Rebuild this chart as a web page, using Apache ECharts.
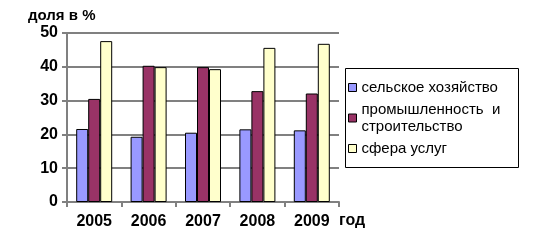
<!DOCTYPE html>
<html>
<head>
<meta charset="utf-8">
<script src="https://cdn.jsdelivr.net/npm/echarts@6/dist/echarts.min.js"></script>
<style>
  html, body { margin: 0; padding: 0; background: #fff; }
  #chart { width: 552px; height: 243px; }
</style>
</head>
<body>
<div id="chart"></div>
<script>
// годы и доли по секторам (%)
var years = ["2005", "2006", "2007", "2008", "2009"];
var agriculture = [21.6, 19.3, 20.5, 21.5, 21.2];
var industry = [30.5, 40.3, 39.9, 32.8, 32.1];
var services = [47.6, 39.9, 39.3, 45.6, 46.8];
var seriesNames = ["сельское хозяйство", "промышленность  и\nстроительство", "сфера услуг"];
var colors = ["#9999ff", "#993366", "#ffffcc"];

var chart = echarts.init(document.getElementById("chart"));
var font = "Liberation Sans, Arial, sans-serif";

function bar(name, data, color) {
  return {
    name: name,
    type: "bar",
    data: data,
    barWidth: 12,
    barGap: "0%",
    animation: false,
    itemStyle: { color: color, borderColor: "#000", borderWidth: 1 }
  };
}

var option = {
  backgroundColor: "#fff",
  grid: { left: 67, right: 213, top: 33, bottom: 41 },
  xAxis: {
    type: "category",
    data: years,
    axisLine: { lineStyle: { color: "#808080", width: 2 } },
    axisTick: { show: true, length: 5, lineStyle: { color: "#808080", width: 2 } },
    axisLabel: { color: "#000", fontFamily: font, fontSize: 16, fontWeight: "bold", margin: 12 }
  },
  yAxis: {
    type: "value",
    min: 0,
    max: 50,
    interval: 10,
    axisLine: { show: true, lineStyle: { color: "#808080", width: 2 } },
    axisTick: { show: true, length: 5, lineStyle: { color: "#808080", width: 2 } },
    splitLine: { lineStyle: { color: "#808080", width: 2 } },
    axisLabel: { color: "#000", fontFamily: font, fontSize: 16, fontWeight: "bold", margin: 9 }
  },
  legend: {
    orient: "vertical",
    left: 343,
    top: 74,
    itemWidth: 8,
    itemHeight: 8,
    itemGap: 5,
    icon: "rect",
    data: seriesNames,
    textStyle: { color: "#000", fontFamily: font, fontSize: 15, lineHeight: 17 },
    itemStyle: { borderColor: "#000", borderWidth: 1 }
  },
  graphic: [
    {
      type: "rect",
      shape: { x: 345.5, y: 68.5, width: 173, height: 99 },
      style: { fill: "none", stroke: "#000", lineWidth: 1 },
      z: -1
    },
    {
      type: "text",
      left: 28,
      top: 8,
      style: { text: "доля в %", fill: "#000", font: "bold 15px " + font }
    },
    {
      type: "text",
      left: 339,
      top: 213,
      style: { text: "год", fill: "#000", font: "bold 16px " + font }
    }
  ],
  series: [
    bar(seriesNames[0], agriculture, colors[0]),
    bar(seriesNames[1], industry, colors[1]),
    bar(seriesNames[2], services, colors[2])
  ]
};

chart.setOption(option);
</script>
</body>
</html>
